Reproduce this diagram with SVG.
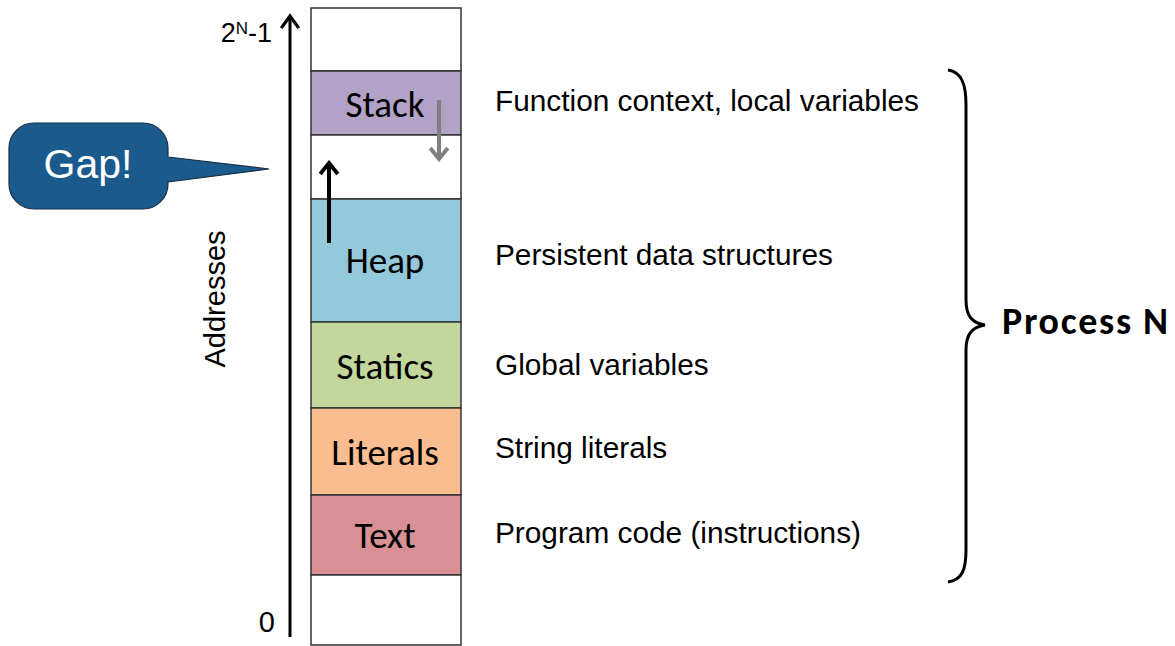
<svg xmlns="http://www.w3.org/2000/svg" width="1175" height="646" viewBox="0 0 1175 646">
<style>
.seg{stroke:#333;stroke-width:1.5}
.lbl{font-family:"Carlito","Liberation Sans",sans-serif;font-size:37px;fill:#000;text-anchor:middle}
.desc{font-family:"Liberation Sans",Arial,sans-serif;font-size:29.8px;fill:#000}
.ax{font-family:"Liberation Sans",Arial,sans-serif;fill:#000}
</style>
<defs>
<marker id="ahB" viewBox="0 0 20 20" refX="17" refY="10" markerWidth="22" markerHeight="22" markerUnits="userSpaceOnUse" orient="auto">
<path d="M6,2 L17,10 L6,18" fill="none" stroke="#000" stroke-width="3"/>
</marker>
<marker id="ahK" viewBox="0 0 20 20" refX="17" refY="10" markerWidth="22" markerHeight="22" markerUnits="userSpaceOnUse" orient="auto">
<path d="M7,2 L17,10 L7,18" fill="none" stroke="#000" stroke-width="3.5"/>
</marker>
<marker id="ahG" viewBox="0 0 20 20" refX="17" refY="10" markerWidth="22" markerHeight="22" markerUnits="userSpaceOnUse" orient="auto">
<path d="M7,2 L17,10 L7,18" fill="none" stroke="#7f7f7f" stroke-width="3.5"/>
</marker>
</defs>
<rect width="1175" height="646" fill="#fff"/>

<g id="column">
<g id="top-empty"><rect class="seg" x="311" y="8" width="150" height="63" fill="#fff"/></g>
<g id="stack"><rect class="seg" x="311" y="71" width="150" height="64" fill="#b3a2c7"/><text class="lbl" x="385" y="117">Stack</text></g>
<g id="gap"><rect class="seg" x="311" y="135" width="150" height="64" fill="#fff"/></g>
<g id="heap"><rect class="seg" x="311" y="199" width="150" height="123" fill="#93c9da"/><text class="lbl" x="385" y="273">Heap</text></g>
<g id="statics"><rect class="seg" x="311" y="322" width="150" height="86" fill="#c3d69b"/><text class="lbl" x="385" y="379">Statics</text></g>
<g id="literals"><rect class="seg" x="311" y="408" width="150" height="87" fill="#f9bd8f"/><text class="lbl" x="385" y="465">Literals</text></g>
<g id="text"><rect class="seg" x="311" y="495" width="150" height="80" fill="#d99095"/><text class="lbl" x="385" y="548">Text</text></g>
<g id="bottom-empty"><rect class="seg" x="311" y="575" width="150" height="70" fill="#fff"/></g>
</g>

<g id="connectors">
<line x1="290" y1="637" x2="290" y2="16" stroke="#000" stroke-width="3" marker-end="url(#ahB)"/>
<line x1="439" y1="100" x2="439" y2="159" stroke="#7f7f7f" stroke-width="4" marker-end="url(#ahG)"/>
<line x1="329" y1="243" x2="329" y2="163" stroke="#000" stroke-width="4" marker-end="url(#ahK)"/>
</g>

<g id="axis-labels">
<text class="ax" x="272" y="42" font-size="27" text-anchor="end">2<tspan font-size="17" dy="-8">N</tspan><tspan dy="8">-1</tspan></text>
<text class="ax" x="275" y="632" font-size="29" text-anchor="end">0</text>
<text class="ax" x="0" y="0" font-size="29" text-anchor="middle" transform="translate(225,299) rotate(-90)">Addresses</text>
</g>

<g id="gap-callout">
<path d="M34,123 H143 A25,25 0 0 1 168,148 V157 L269,169 L168,182 V184 A25,25 0 0 1 143,209 H34 A25,25 0 0 1 9,184 V148 A25,25 0 0 1 34,123 Z" fill="#1b5a8d" stroke="#1a2f45" stroke-width="1.2"/>
<text x="88" y="178" font-family="Liberation Sans, Arial, sans-serif" font-size="41" fill="#fff" text-anchor="middle">Gap!</text>
</g>

<g id="descriptions">
<text class="desc" x="495" y="111">Function context, local variables</text>
<text class="desc" x="495" y="265">Persistent data structures</text>
<text class="desc" x="495" y="375">Global variables</text>
<text class="desc" x="495" y="458">String literals</text>
<text class="desc" x="495" y="543">Program code (instructions)</text>
</g>

<g id="process-brace">
<path d="M948,70 C962,72 966,85 966,105 V300 C966,316 972,323 985,325 C972,327 966,334 966,350 V550 C966,570 962,580 948,582" fill="none" stroke="#000" stroke-width="3"/>
<text x="1002" y="334" font-family="Carlito, Liberation Sans, sans-serif" font-weight="bold" font-size="38" textLength="166" fill="#000">Process N</text>
</g>
</svg>
